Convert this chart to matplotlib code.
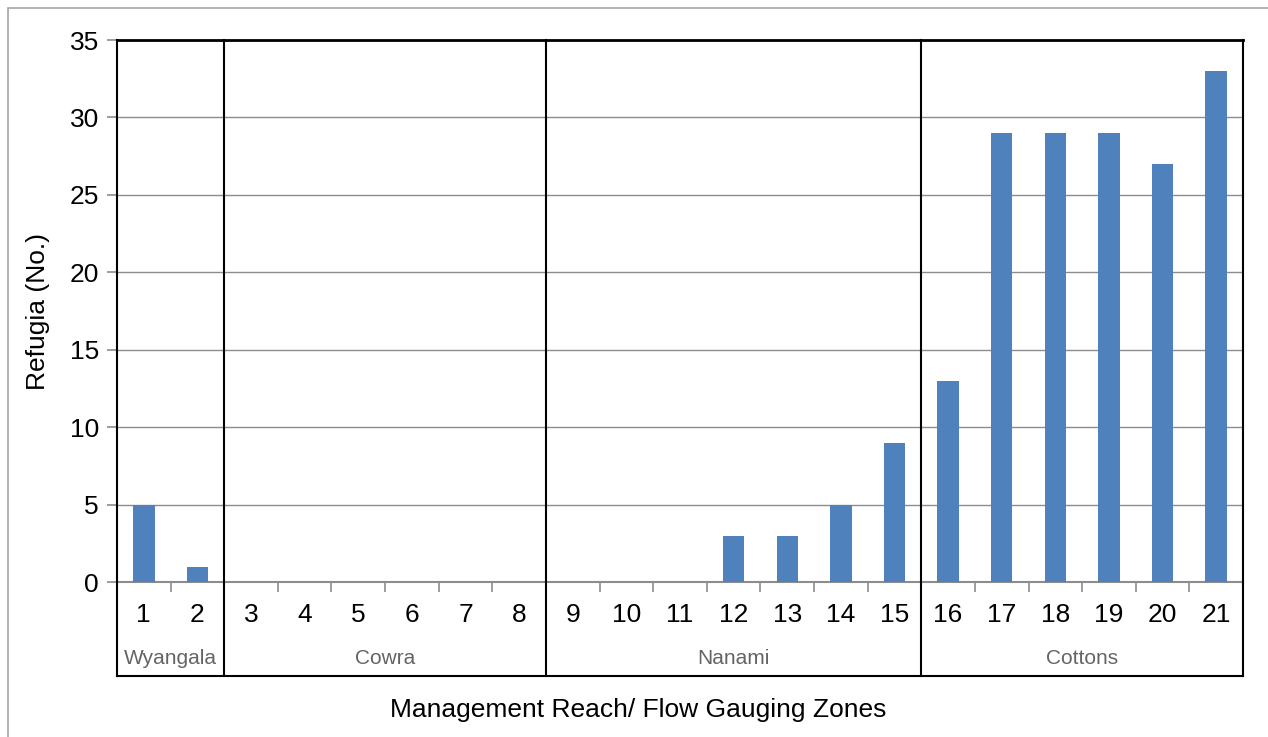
import matplotlib
matplotlib.use("Agg")
import matplotlib.pyplot as plt
from matplotlib.patches import Rectangle
import matplotlib.transforms as mtransforms

plt.rcParams['font.family'] = ['Liberation Sans', 'DejaVu Sans']

categories = [str(i) for i in range(1, 22)]
values = [5, 1, 0, 0, 0, 0, 0, 0, 0, 0, 0, 3, 3, 5, 9, 13, 29, 29, 29, 27, 33]
groups = ["Wyangala", "Cowra", "Nanami", "Cottons"]
group_sizes = [2, 6, 7, 6]
y_ticks = [0, 5, 10, 15, 20, 25, 30, 35]

W, H = 1268, 737
fig = plt.figure(figsize=(W / 100, H / 100), dpi=100)
fig.patch.set_facecolor('white')

# outer border
fig.patches.append(Rectangle((8 / W, -0.05), 1.2, 1 - 8 / H + 0.05, transform=fig.transFigure,
                             fill=False, edgecolor='#A6A6A6', linewidth=1.2))

left, right, top, bottom = 117, 1243, 40, 582
ax = fig.add_axes([left / W, 1 - bottom / H, (right - left) / W, (bottom - top) / H])

x = list(range(len(categories)))
ax.bar(x, values, width=0.4, color='#4F81BD', zorder=3)

ax.set_xlim(-0.5, len(categories) - 0.5)
ax.set_ylim(0, 35)
ax.set_yticks(y_ticks)
ax.set_yticklabels([str(v) for v in y_ticks], fontsize=19)
ax.yaxis.grid(True, color='#8C8C8C', linewidth=1.0, zorder=0)

# x ticks: boundaries as major (marks), centres as minor (labels)
ax.set_xticks([i - 0.5 for i in range(len(categories) + 1)])
ax.set_xticklabels([])
ax.set_xticks(x, minor=True)
ax.set_xticklabels(categories, minor=True, fontsize=19)
ax.tick_params(axis='x', which='major', length=7, color='#8C8C8C', width=1.2, direction='out')
ax.tick_params(axis='x', which='minor', length=0, pad=15)
ax.tick_params(axis='y', length=7, color='#8C8C8C', width=1.2, pad=6)

ax.spines['bottom'].set_color('#8C8C8C')
ax.spines['bottom'].set_linewidth(1.5)
ax.spines['top'].set_color('black')
ax.spines['top'].set_linewidth(2.0)
ax.spines['left'].set_visible(False)
ax.spines['right'].set_visible(False)

box_bottom = (bottom - 676) / (bottom - top)
trans = mtransforms.blended_transform_factory(ax.transData, ax.transAxes)

# left / right border lines and box bottom
ax.plot([-0.5, -0.5], [box_bottom, 1], transform=trans, color='black', lw=1.5, clip_on=False, zorder=5)
ax.plot([len(categories) - 0.5] * 2, [box_bottom, 1], transform=trans, color='black', lw=1.5, clip_on=False, zorder=5)
ax.plot([-0.5, len(categories) - 0.5], [box_bottom, box_bottom], transform=trans, color='black', lw=1.5, clip_on=False)

# group separators and labels
start = 0
label_y = (bottom - 658) / (bottom - top)
for g, n in zip(groups, group_sizes):
    end = start + n
    if end < len(categories):
        ax.plot([end - 0.5, end - 0.5], [box_bottom, 1], transform=trans, color='black', lw=1.5,
                clip_on=False, zorder=5)
    ax.text((start + end - 1) / 2, label_y, g, transform=trans, ha='center', va='center',
            fontsize=15, color='#646464')
    start = end

ax.set_ylabel('Refugia (No.)', fontsize=19, labelpad=14)
fig.text(638 / W, 1 - 710 / H, 'Management Reach/ Flow Gauging Zones', ha='center', va='center', fontsize=19)

fig.savefig('out.png', dpi=100)
